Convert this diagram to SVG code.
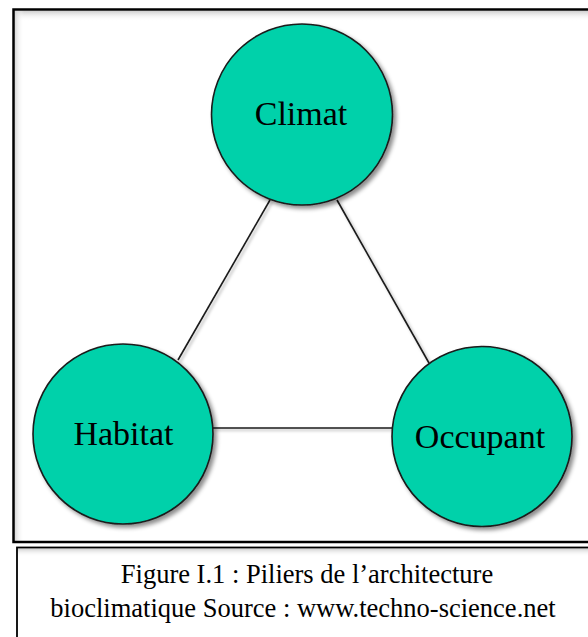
<svg xmlns="http://www.w3.org/2000/svg" width="588" height="637" viewBox="0 0 588 637">
  <defs>
    <style>
      .node { fill: #02d1aa; stroke: #1a1a1a; stroke-width: 1.6; }
      .edge { stroke: #1a1a1a; stroke-width: 1.6; fill: none; }
      .label { font-family: "Liberation Serif", "Times New Roman", serif; font-size: 34px; fill: #000; text-anchor: middle; }
      .caption { font-family: "Liberation Serif", "Times New Roman", serif; font-size: 26.5px; fill: #000; text-anchor: middle; }
    </style>
    <filter id="shadow" x="-20%" y="-20%" width="150%" height="150%">
      <feDropShadow dx="3" dy="3" stdDeviation="2" flood-color="#000" flood-opacity="0.45"/>
    </filter>
    <filter id="lshadow" x="-20%" y="-20%" width="150%" height="150%">
      <feDropShadow dx="2" dy="2" stdDeviation="1.5" flood-color="#000" flood-opacity="0.3"/>
    </filter>
    <linearGradient id="gTop" x1="0" y1="0" x2="0" y2="1">
      <stop offset="0" stop-color="#cfcfcf"/>
      <stop offset="1" stop-color="#ffffff" stop-opacity="0"/>
    </linearGradient>
    <linearGradient id="gLeft" x1="0" y1="0" x2="1" y2="0">
      <stop offset="0" stop-color="#cfcfcf"/>
      <stop offset="1" stop-color="#ffffff" stop-opacity="0"/>
    </linearGradient>
  </defs>

  <rect x="0" y="0" width="588" height="637" fill="#ffffff"/>

  <!-- outer frame -->
  <g id="frame">
    <rect x="14" y="11" width="580" height="10" fill="url(#gTop)"/>
    <rect x="14" y="11" width="10" height="530" fill="url(#gLeft)"/>
    <rect x="13.5" y="9.5" width="590" height="532.5" fill="none" stroke="#000" stroke-width="2.5"/>
  </g>

  <!-- connectors -->
  <g id="connectors" filter="url(#lshadow)">
    <line class="edge" x1="270" y1="200" x2="178" y2="360"/>
    <line class="edge" x1="337" y1="200" x2="429" y2="363"/>
    <line class="edge" x1="213" y1="428" x2="392" y2="428"/>
  </g>

  <g id="node-climat">
    <circle class="node" cx="302" cy="114.5" r="90.5" filter="url(#shadow)"/>
    <text class="label" x="301" y="125">Climat</text>
  </g>
  <g id="node-habitat">
    <circle class="node" cx="123" cy="434" r="90" filter="url(#shadow)"/>
    <text class="label" x="123.5" y="445">Habitat</text>
  </g>
  <g id="node-occupant">
    <circle class="node" cx="482" cy="436.5" r="90" filter="url(#shadow)"/>
    <text class="label" x="480" y="448">Occupant</text>
  </g>

  <!-- caption box -->
  <g id="caption">
    <rect x="18" y="548.5" width="580" height="8" fill="url(#gTop)"/>
    <rect x="17" y="547.5" width="590" height="100" fill="none" stroke="#000" stroke-width="1.8"/>
    <text class="caption" x="307" y="582.5">Figure I.1 : Piliers de l’architecture</text>
    <text class="caption" x="303" y="617">bioclimatique Source : www.techno-science.net</text>
  </g>
</svg>
